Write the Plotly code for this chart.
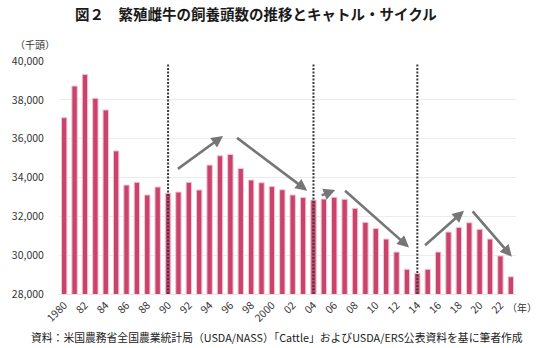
import plotly.graph_objects as go

# Beef breeding cows, thousand head (USDA/NASS "Cattle")
years = list(range(1980, 2024))
cows = [37080, 38710, 39310, 38080, 37480, 35370, 33610, 33750, 33100, 33510,
        33190, 33250, 33750, 33360, 34640, 35120, 35190, 34460, 33870, 33730,
        33540, 33370, 33100, 32970, 32840, 32890, 32980, 32880, 32410, 31690,
        31370, 30830, 30160, 29270, 29060, 29270, 30160, 31190, 31430, 31670,
        31330, 30830, 29960, 28890]

tick_years = list(range(1980, 2023, 2))
tick_text = ["1980" if y == 1980 else ("2000" if y == 2000 else f"{y % 100:02d}")
             for y in tick_years]

# cycle boundaries (troughs)
cycle_breaks = [1990, 2004, 2014]

# cycle trend arrows: (tail_year, tail_value, head_year, head_value)
trend_arrows = [
    (1990.8, 34390, 1995.3, 36140),
    (1996.5, 36100, 2003.4, 33320),
    (2004.65, 33050, 2006.1, 33360),
    (2006.9, 33390, 2013.2, 30400),
    (2014.6, 30440, 2018.5, 32290),
    (2019.2, 32330, 2023.1, 29920),
]

FONT = "Noto Sans CJK JP"

fig = go.Figure()
fig.add_trace(go.Bar(
    x=years, y=cows, width=0.52,
    marker=dict(color="#C8446C", line=dict(color="#F4C6D4", width=1)),
    hoverinfo="x+y",
))

shapes = []
for yr in cycle_breaks:
    shapes.append(dict(type="line", xref="x", yref="y", x0=yr, x1=yr,
                       y0=28000, y1=39900,
                       line=dict(color="#3a3a3a", width=2, dash="2px,1.5px"),
                       layer="above"))

annotations = []
for tx, ty, hx, hy in trend_arrows:
    annotations.append(dict(x=hx, y=hy, ax=tx, ay=ty, xref="x", yref="y",
                            axref="x", ayref="y", text="", showarrow=True,
                            arrowhead=2, arrowsize=0.9, arrowwidth=2.6,
                            arrowcolor="#767676"))

text_notes = [
    dict(text="<b>図２　繁殖雌牛の飼養頭数の推移とキャトル・サイクル</b>",
         x=250, y=14, font=dict(family=FONT, size=14.5, color="#1a1a1a"),
         xanchor="center"),
    dict(text="（千頭）", x=1, y=44,
         font=dict(family=FONT, size=10, color="#333"), xanchor="left"),
    dict(text="（年）", x=522, y=307,
         font=dict(family=FONT, size=10, color="#333"), xanchor="center"),
    dict(text="資料：米国農務省全国農業統計局（USDA/NASS）「Cattle」およびUSDA/ERS公表資料を基に筆者作成",
         x=271, y=337, font=dict(family=FONT, size=10.8, color="#222"),
         xanchor="center"),
]

# text notes are placed in pixel coords -> convert to paper coords
W, H = 550, 348
ML, MR, MT, MB = 48, 34, 61, 54
pw, ph = W - ML - MR, H - MT - MB
for a in text_notes:
    a.update(xref="paper", yref="paper", showarrow=False, yanchor="middle",
             x=(a["x"] - ML) / pw, y=1 - (a["y"] - MT) / ph)
    annotations.append(a)

fig.update_layout(
    width=W, height=H,
    margin=dict(l=ML, r=MR, t=MT, b=MB),
    paper_bgcolor="white", plot_bgcolor="white",
    showlegend=False, bargap=0.5,
    font=dict(family=FONT, size=10, color="#333"),
    xaxis=dict(range=[1979.5, 2023.5], tickmode="array", tickvals=tick_years,
               ticktext=tick_text, tickangle=-45, showgrid=False,
               showline=True, linecolor="#e6e6e6", linewidth=1,
               ticks="", tickfont=dict(size=10.5, color="#333"), zeroline=False),
    yaxis=dict(range=[28000, 40000], dtick=2000, tickformat=",",
               showgrid=True, gridcolor="#ececec", gridwidth=1,
               ticks="outside", ticklen=12, tickcolor="rgba(0,0,0,0)",
               tickfont=dict(size=10.5, color="#333"), zeroline=False),
    shapes=shapes,
    annotations=annotations,
)

fig.write_html("out.html")
